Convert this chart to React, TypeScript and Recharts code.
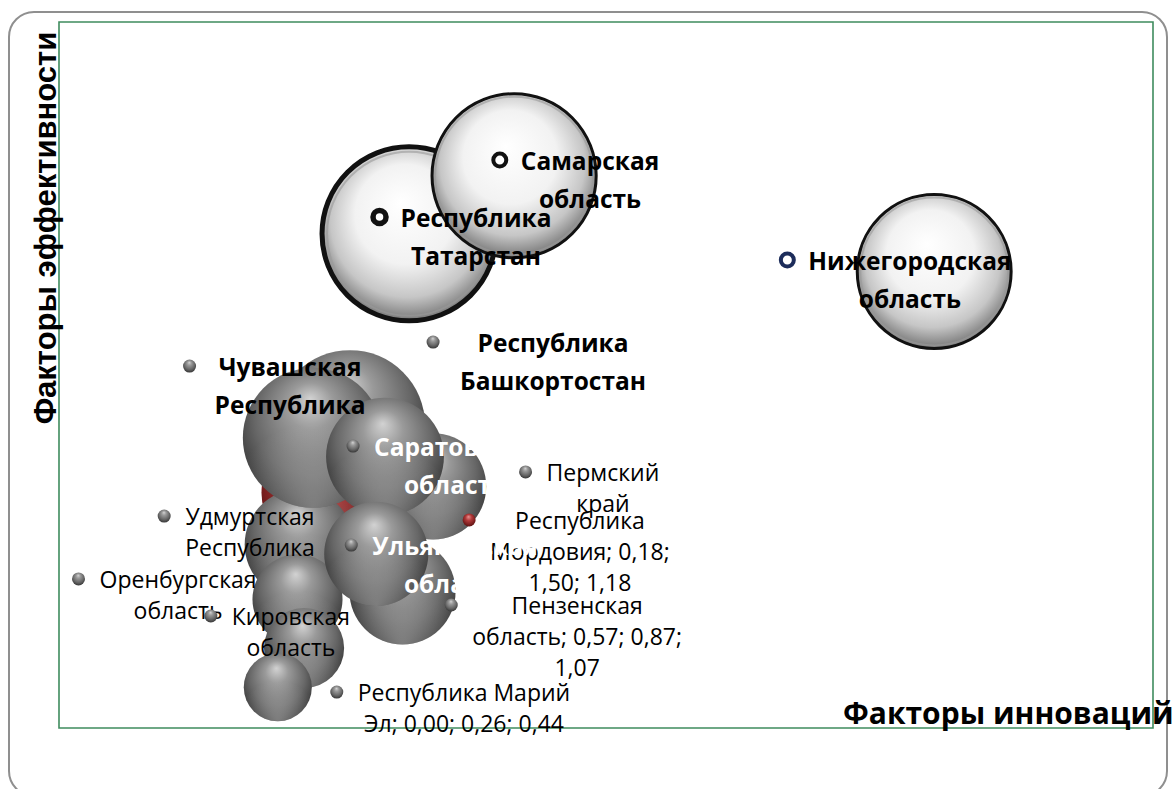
import React from 'react';
import { ScatterChart, Scatter, XAxis, YAxis, ZAxis, ReferenceArea } from 'recharts';

// ---- data (draw order: back to front) ----
const regions = [
  'Республика Мордовия',
  'Республика Башкортостан',
  'Удмуртская Республика',
  'Чувашская Республика',
  'Пермский край',
  'Саратовская область',
  'Оренбургская область',
  'Кировская область',
  'Республика Марий Эл',
  'Пензенская область',
  'Ульяновская область',
  'Республика Татарстан',
  'Самарская область',
  'Нижегородская область',
];
// Факторы инноваций (x)
const innovationFactor = [0.18, 0.33, 0.10, 0.16, 0.71, 0.49, 0.09, 0.12, 0.00, 0.57, 0.45, 0.60, 1.08, 3.00];
// Факторы эффективности (y)
const efficiencyFactor = [1.50, 1.93, 1.17, 1.85, 1.54, 1.73, 0.82, 0.51, 0.26, 0.87, 1.11, 3.15, 3.52, 2.91];
// bubble size
const bubbleSize = [1.18, 2.14, 1.15, 1.86, 1.07, 1.32, 0.77, 0.61, 0.44, 1.07, 1.03, 2.88, 2.56, 2.25];

// data-label text (as wrapped in the original)
const labelLines: string[][] = [
  ['Республика', 'Мордовия; 0,18;', '1,50; 1,18'],
  ['Республика', 'Башкортостан'],
  ['Удмуртская', 'Республика'],
  ['Чувашская', 'Республика'],
  ['Пермский', 'край'],
  ['Саратовская', 'область'],
  ['Оренбургская', 'область'],
  ['Кировская', 'область'],
  ['Республика Марий', 'Эл; 0,00; 0,26; 0,44'],
  ['Пензенская', 'область; 0,57; 0,87;', '1,07'],
  ['Ульяновская', 'область'],
  ['Республика', 'Татарстан'],
  ['Самарская', 'область'],
  ['Нижегородская', 'область'],
];
// data-label anchor (text block centre / first line), in axis units
const labelAtX = [1.381, 1.258, -0.127, 0.056, 1.486, 0.81, -0.456, 0.06, 0.851, 1.368, 0.81, 0.906, 1.427, 2.889];
const labelAtY = [1.326, 2.46, 1.351, 2.307, 1.632, 1.797, 0.95, 0.714, 0.229, 0.784, 1.166, 3.257, 3.62, 2.983];

const xTitle = 'Факторы инноваций';
const yTitle = 'Факторы эффективности';

// ---- styles (kept apart from data) ----
const toneOf: Record<string, string> = {
  'Республика Мордовия': 'red',
  'Республика Татарстан': 'white',
  'Самарская область': 'white',
  'Нижегородская область': 'white',
};
const ringColor: Record<string, string> = {
  'Республика Татарстан': '#111111',
  'Самарская область': '#111111',
  'Нижегородская область': '#1c2c5a',
};
const ringWidth: Record<string, number> = {
  'Республика Татарстан': 5.5,
  'Самарская область': 4,
  'Нижегородская область': 4,
};
const borderWidth: Record<string, number> = {
  'Республика Татарстан': 5,
  'Самарская область': 3,
  'Нижегородская область': 3,
};
const boldLabels = new Set([
  'Республика Башкортостан', 'Чувашская Республика', 'Саратовская область', 'Ульяновская область',
  'Республика Татарстан', 'Самарская область', 'Нижегородская область',
]);
const whiteLabels = new Set(['Саратовская область', 'Ульяновская область']);
const extraGap: Record<string, number> = { 'Чувашская Республика': 4, 'Республика Башкортостан': 6 };

const FONT = '"Open Sans", "DejaVu Sans", sans-serif';

const bubbleData = regions.map((name, i) => ({
  name,
  x: innovationFactor[i],
  y: efficiencyFactor[i],
  z: bubbleSize[i],
}));
const labelData = regions.map((name, i) => ({
  name,
  x: labelAtX[i],
  y: labelAtY[i],
  lines: labelLines[i],
}));

let ctx: CanvasRenderingContext2D | null = null;
function measure(text: string, font: string): number {
  if (!ctx) {
    const c = document.createElement('canvas');
    ctx = c.getContext('2d');
  }
  if (!ctx) return text.length * 12;
  ctx.font = font;
  return ctx.measureText(text).width;
}

function Gradients() {
  return (
    <defs>
      <radialGradient id="gGray" cx="50%" cy="42%" r="60%" fx="48%" fy="22%">
        <stop offset="0%" stopColor="#d2d2d2" />
        <stop offset="28%" stopColor="#9a9a9a" />
        <stop offset="68%" stopColor="#676767" />
        <stop offset="100%" stopColor="#333333" />
      </radialGradient>
      <radialGradient id="gRefl" cx="50%" cy="100%" r="60%">
        <stop offset="0%" stopColor="#ffffff" stopOpacity="0.35" />
        <stop offset="100%" stopColor="#ffffff" stopOpacity="0" />
      </radialGradient>
      <radialGradient id="gWhite" cx="50%" cy="45%" r="55%" fx="45%" fy="32%">
        <stop offset="0%" stopColor="#ffffff" />
        <stop offset="52%" stopColor="#f2f2f2" />
        <stop offset="80%" stopColor="#c6c6c6" />
        <stop offset="100%" stopColor="#777777" />
      </radialGradient>
      <radialGradient id="gRed" cx="50%" cy="42%" r="60%" fx="45%" fy="25%">
        <stop offset="0%" stopColor="#e89090" />
        <stop offset="40%" stopColor="#b23a3a" />
        <stop offset="100%" stopColor="#5a1010" />
      </radialGradient>
    </defs>
  );
}

function BubbleShape(props: any) {
  const { cx, cy, payload } = props;
  const r = props.width ? props.width / 2 : Math.sqrt((props.size || 0) / Math.PI);
  const tone = toneOf[payload.name] || 'gray';
  if (tone === 'white') {
    const bw = borderWidth[payload.name] || 3;
    return (
      <g>
        <Gradients />
        <circle cx={cx} cy={cy} r={r} fill="url(#gWhite)" stroke="#111" strokeWidth={bw} />
        <circle cx={cx} cy={cy} r={r - bw} fill="none" stroke="#9a9a9a" strokeWidth={2} opacity={0.6} />
      </g>
    );
  }
  return (
    <g>
      <Gradients />
      <circle cx={cx} cy={cy} r={r} fill={tone === 'red' ? 'url(#gRed)' : 'url(#gGray)'} />
      <circle cx={cx} cy={cy} r={r} fill="url(#gRefl)" />
    </g>
  );
}

function LabelShape(props: any) {
  const { cx, cy, payload } = props;
  const name = payload.name;
  const bold = boldLabels.has(name);
  const size = bold ? 24.5 : 23;
  const lh = bold ? 38 : 31;
  const font = `${bold ? 700 : 400} ${size}px "Open Sans"`;
  const lines: string[] = payload.lines;
  const maxW = Math.max(...lines.map((l) => measure(l, font)));
  const keyX = cx - maxW / 2 - 21 - (extraGap[name] || 0);
  const tone = toneOf[name] || 'gray';
  let key;
  if (tone === 'white') {
    key = <circle cx={keyX} cy={cy} r={6.5} fill="#ffffff" stroke={ringColor[name]} strokeWidth={ringWidth[name] || 4} />;
  } else {
    key = <circle cx={keyX} cy={cy} r={6.5} fill={tone === 'red' ? 'url(#gRed)' : 'url(#gGray)'} />;
  }
  return (
    <g>
      <Gradients />
      {key}
      {lines.map((l, i) => (
        <text
          key={i}
          x={cx}
          y={cy + i * lh}
          textAnchor="middle"
          dominantBaseline="central"
          fontFamily={FONT}
          fontWeight={bold ? 700 : 400}
          fontSize={size}
          fill={whiteLabels.has(name) ? '#ffffff' : '#000000'}
        >
          {l}
        </text>
      ))}
    </g>
  );
}

export default function App() {
  return (
    <div style={{ position: 'absolute', left: 0, top: 0, width: 1173, height: 789, background: '#fff', overflow: 'hidden' }}>
      <div
        style={{
          position: 'absolute', left: 8, top: 11, width: 1160, height: 786,
          border: '2px solid #8f8f8f', borderRadius: 26, boxSizing: 'border-box',
        }}
      />
      <div style={{ position: 'absolute', left: 0, top: 0 }}>
        <ScatterChart width={1173} height={789} margin={{ top: 22, right: 20, bottom: 61, left: 59 }} style={{ overflow: 'visible' }}>
          <XAxis type="number" dataKey="x" domain={[-1, 4]} hide />
          <YAxis type="number" dataKey="y" domain={[0, 4.5]} hide />
          <ZAxis type="number" dataKey="z" domain={[0, 3]} range={[0, 24804]} />
          <ZAxis zAxisId="lbl" type="number" range={[100, 100]} />
          <ReferenceArea x1={-1} x2={4} y1={0} y2={4.5} fill="none" stroke="#3f8c5e" strokeWidth={1.6} fillOpacity={0} />
          <Scatter data={bubbleData} shape={<BubbleShape />} isAnimationActive={false} />
          <Scatter data={labelData} zAxisId="lbl" shape={<LabelShape />} isAnimationActive={false} />
        </ScatterChart>
      </div>
      <svg width={1173} height={789} style={{ position: 'absolute', left: 0, top: 0, pointerEvents: 'none' }}>
        <text
          transform="translate(45,228) rotate(-90)"
          textAnchor="middle"
          dominantBaseline="central"
          fontFamily='"Liberation Sans", Arial, sans-serif'
          fontWeight={700}
          fontSize={31}
          fill="#000"
        >
          {yTitle}
        </text>
        <text x={843} y={712} dominantBaseline="central" fontFamily={FONT} fontWeight={700} fontSize={30} fill="#000">
          {xTitle}
        </text>
      </svg>
    </div>
  );
}
